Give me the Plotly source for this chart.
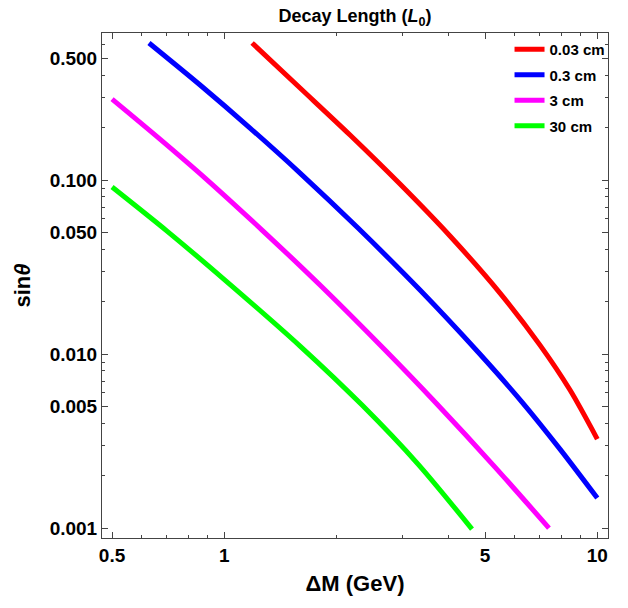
import plotly.graph_objects as go

# ---- data ----
labels = ["0.03 cm", "0.3 cm", "3 cm", "30 cm"]
colors = ["#ff0000", "#0000ff", "#ff00ff", "#00ff00"]

red_x = [1.187, 1.596, 2.173, 2.958, 4.028, 5.485, 7.02, 8.451, 10.0]
red_y = [0.613, 0.3378, 0.1814, 0.0948, 0.04768, 0.02242, 0.01126, 0.00621, 0.003247]

blue_x = [0.628, 0.861, 1.172, 1.596, 2.283, 3.347, 4.788, 6.283, 7.943, 10.0]
blue_y = [0.613, 0.3516, 0.1990, 0.1097, 0.05297, 0.02332, 0.01027, 0.0053, 0.002844, 0.001488]

mag_x = [0.5, 0.672, 0.888, 1.262, 1.805, 2.697, 3.694, 5.318, 7.42]
mag_y = [0.292, 0.1720, 0.1027, 0.0516, 0.02492, 0.01054, 0.00523, 0.002241, 0.001]

green_x = [0.5, 0.702, 1.011, 1.596, 2.340, 3.306, 4.614]
green_y = [0.0912, 0.0509, 0.02627, 0.01112, 0.00509, 0.002332, 0.000987]

x_tickvals = [0.5, 1, 5, 10]
x_ticktext = ["0.5", "1", "5", "10"]
x_minor = [0.6, 0.7, 0.8, 0.9, 2, 3, 4, 6, 7, 8, 9]
y_tickvals = [0.001, 0.005, 0.01, 0.05, 0.1, 0.5]
y_ticktext = ["0.001", "0.005", "0.010", "0.050", "0.100", "0.500"]
y_minor = [0.002, 0.003, 0.004, 0.006, 0.007, 0.008, 0.009,
           0.02, 0.03, 0.04, 0.06, 0.07, 0.08, 0.09,
           0.2, 0.3, 0.4, 0.6]

series = [(red_x, red_y), (blue_x, blue_y), (mag_x, mag_y), (green_x, green_y)]

fig = go.Figure()
for i, ((xs, ys), name, c) in enumerate(zip(series, labels, colors)):
    fig.add_trace(go.Scatter(x=xs, y=ys, mode="lines", name="<b>%s</b>" % name,
                             legendgroup="g%d" % i,
                             line=dict(color=c, width=5, shape="spline", smoothing=0.8)))

font_family = "Liberation Sans, Arial, sans-serif"
frame_color = "#444444"

fig.update_layout(
    width=628, height=608,
    margin=dict(l=102, r=20, t=33, b=70),
    paper_bgcolor="white", plot_bgcolor="white",
    font=dict(family=font_family, color="black"),
    title=dict(text="<b>Decay Length (<i>L</i><sub>0</sub>)</b>",
               x=(102 + 608) / 2 / 628, xanchor="center", y=1 - 16 / 608, yanchor="middle",
               yref="container", font=dict(size=18, color="black")),
    showlegend=True,
    legend=dict(x=1.005, y=1.0, xanchor="right", yanchor="top",
                bgcolor="rgba(255,255,255,0)", font=dict(size=15, color="black"),
                itemwidth=30, tracegroupgap=3),
)

fig.update_xaxes(
    type="log", range=[-0.328, 1.0287],
    tickmode="array", tickvals=x_tickvals, ticktext=["<b>%s</b>" % t for t in x_ticktext],
    ticks="inside", ticklen=6, tickwidth=1, tickcolor=frame_color,
    minor=dict(tickmode="array", tickvals=x_minor, ticks="inside", ticklen=3,
               tickwidth=1, tickcolor=frame_color, showgrid=False),
    showline=True, linecolor=frame_color, linewidth=1, mirror="ticks",
    showgrid=False, zeroline=False,
    tickfont=dict(size=19, color="black"),
    title=dict(text="<b>ΔM (GeV)</b>", font=dict(size=22, color="black"), standoff=10),
)
fig.update_yaxes(
    type="log", range=[-3.057, -0.155],
    tickmode="array", tickvals=y_tickvals, ticktext=["<b>%s</b>" % t for t in y_ticktext],
    ticks="inside", ticklen=6, tickwidth=1, tickcolor=frame_color,
    minor=dict(tickmode="array", tickvals=y_minor, ticks="inside", ticklen=3,
               tickwidth=1, tickcolor=frame_color, showgrid=False),
    showline=True, linecolor=frame_color, linewidth=1, mirror="ticks",
    showgrid=False, zeroline=False,
    tickfont=dict(size=19, color="black"),
    title=dict(text="<b>sin<i>θ</i></b>", font=dict(size=22, color="black"), standoff=12),
)

fig.write_html("out.html")
